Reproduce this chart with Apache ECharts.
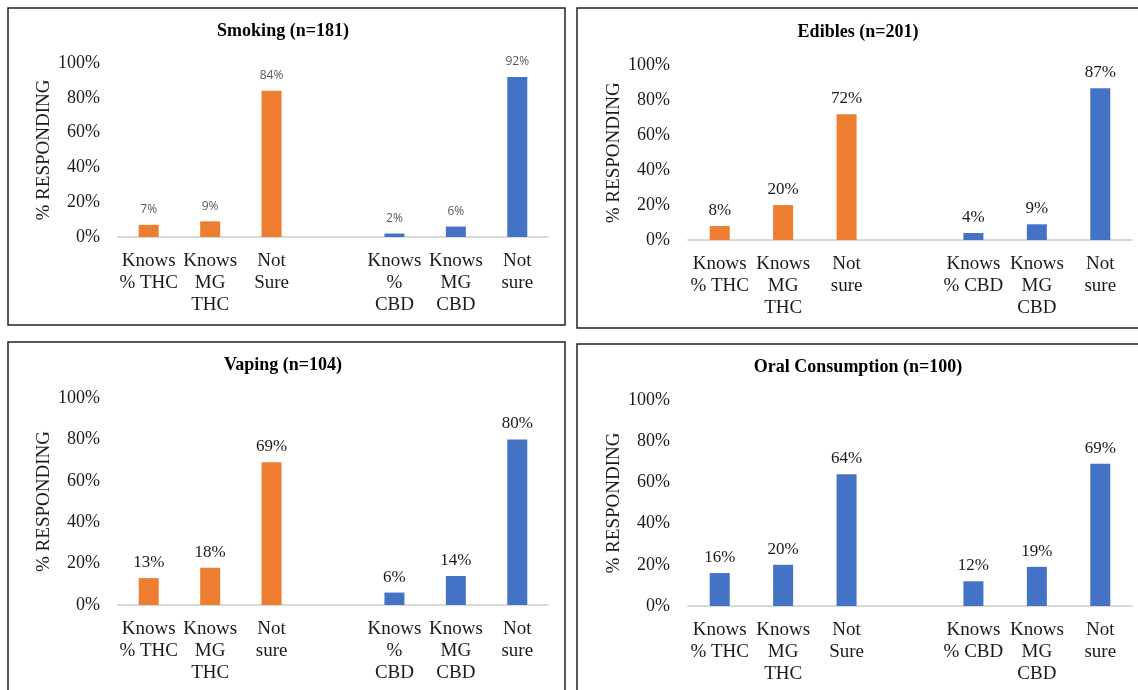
<!DOCTYPE html>
<html>
<head>
<meta charset="utf-8">
<script src="https://cdn.jsdelivr.net/npm/echarts@6/dist/echarts.min.js"></script>
<style>
html,body{margin:0;padding:0;background:#fff;}
#chart{width:1138px;height:690px;}
</style>
</head>
<body>
<div id="chart"></div>
<script>
// ---- data ----
var panelTitles = ['Smoking (n=181)', 'Edibles (n=201)', 'Vaping (n=104)', 'Oral Consumption (n=100)'];
var catsSmoking = ['Knows\n% THC', 'Knows\nMG\nTHC', 'Not\nSure', '', 'Knows\n%\nCBD', 'Knows\nMG\nCBD', 'Not\nsure'];
var catsEdibles = ['Knows\n% THC', 'Knows\nMG\nTHC', 'Not\nsure', '', 'Knows\n% CBD', 'Knows\nMG\nCBD', 'Not\nsure'];
var catsVaping  = ['Knows\n% THC', 'Knows\nMG\nTHC', 'Not\nsure', '', 'Knows\n%\nCBD', 'Knows\nMG\nCBD', 'Not\nsure'];
var catsOral    = ['Knows\n% THC', 'Knows\nMG\nTHC', 'Not\nSure', '', 'Knows\n% CBD', 'Knows\nMG\nCBD', 'Not\nsure'];
var thcSmoking = [7, 9, 84];
var cbdSmoking = [2, 6, 92];
var thcEdibles = [8, 20, 72];
var cbdEdibles = [4, 9, 87];
var thcVaping  = [13, 18, 69];
var cbdVaping  = [6, 14, 80];
var thcOral    = [16, 20, 64];
var cbdOral    = [12, 19, 69];
var yTicks = [0, 20, 40, 60, 80, 100];

// ---- styling / layout ----
var ORANGE = '#ED7D31', BLUE = '#4472C4';
var SERIF = '"Liberation Serif", "Times New Roman", serif';
var panels = [
  {title: panelTitles[0], cats: catsSmoking, thc: thcSmoking, cbd: cbdSmoking, thcColor: ORANGE, cbdColor: BLUE,
   grid: {left: 118, top: 63, width: 430, height: 174}, titlePos: [283, 22], sansLabels: true},
  {title: panelTitles[1], cats: catsEdibles, thc: thcEdibles, cbd: cbdEdibles, thcColor: ORANGE, cbdColor: BLUE,
   grid: {left: 688, top: 65.5, width: 444, height: 174.5}, titlePos: [858, 23]},
  {title: panelTitles[2], cats: catsVaping, thc: thcVaping, cbd: cbdVaping, thcColor: ORANGE, cbdColor: BLUE,
   grid: {left: 118, top: 398, width: 430, height: 207}, titlePos: [283, 356]},
  {title: panelTitles[3], cats: catsOral, thc: thcOral, cbd: cbdOral, thcColor: BLUE, cbdColor: BLUE,
   grid: {left: 688, top: 400, width: 444, height: 206}, titlePos: [858, 358]}
];

var option = {
  animation: false,
  backgroundColor: '#fff',
  title: [], grid: [], xAxis: [], yAxis: [], series: [],
  graphic: [
    {type: 'rect', shape: {x: 8, y: 8, width: 557, height: 317}, style: {fill: 'none', stroke: '#222', lineWidth: 1.5}, z: 0},
    {type: 'rect', shape: {x: 577, y: 8, width: 600, height: 320}, style: {fill: 'none', stroke: '#222', lineWidth: 1.5}, z: 0},
    {type: 'rect', shape: {x: 8, y: 342, width: 557, height: 400}, style: {fill: 'none', stroke: '#222', lineWidth: 1.5}, z: 0},
    {type: 'rect', shape: {x: 577, y: 344, width: 600, height: 400}, style: {fill: 'none', stroke: '#222', lineWidth: 1.5}, z: 0}
  ]
};

panels.forEach(function (p, i) {
  option.title.push({
    text: p.title, left: p.titlePos[0], top: p.titlePos[1], textAlign: 'center', padding: 0,
    textStyle: {fontFamily: SERIF, fontSize: 18, fontWeight: 'bold', color: '#000'}
  });
  option.grid.push(p.grid);
  option.xAxis.push({
    type: 'category', gridIndex: i, data: p.cats,
    axisLine: {lineStyle: {color: '#D9D9D9', width: 2}},
    axisTick: {show: false},
    axisLabel: {interval: 0, fontFamily: SERIF, fontSize: 19, lineHeight: 22, color: '#1a1a1a', margin: 13}
  });
  option.yAxis.push({
    type: 'value', gridIndex: i, min: yTicks[0], max: yTicks[yTicks.length - 1], interval: yTicks[1] - yTicks[0],
    name: '% RESPONDING', nameLocation: 'middle', nameRotate: 90, nameGap: 64,
    nameTextStyle: {fontFamily: SERIF, fontSize: 19, color: '#1a1a1a'},
    axisLine: {show: false}, axisTick: {show: false}, splitLine: {show: false},
    axisLabel: {formatter: '{value}%', fontFamily: SERIF, fontSize: 18, color: '#1a1a1a', margin: 18}
  });
  var lbl = p.sansLabels
    ? {show: true, position: 'top', distance: 9, formatter: '{c}%', fontFamily: '"Open Sans", sans-serif', fontSize: 12, color: '#595959'}
    : {show: true, position: 'top', distance: 7, formatter: '{c}%', fontFamily: SERIF, fontSize: 17, color: '#1a1a1a'};
  var thcData = p.thc.concat(['-', '-', '-', '-']);
  var cbdData = ['-', '-', '-', '-'].concat(p.cbd);
  option.series.push({
    type: 'bar', xAxisIndex: i, yAxisIndex: i, data: thcData, barWidth: 20, barGap: '-100%',
    itemStyle: {color: p.thcColor}, label: lbl
  });
  option.series.push({
    type: 'bar', xAxisIndex: i, yAxisIndex: i, data: cbdData, barWidth: 20, barGap: '-100%',
    itemStyle: {color: p.cbdColor}, label: lbl
  });
});

var chart = echarts.init(document.getElementById('chart'), null, {renderer: 'canvas'});
chart.setOption(option);
</script>
</body>
</html>
